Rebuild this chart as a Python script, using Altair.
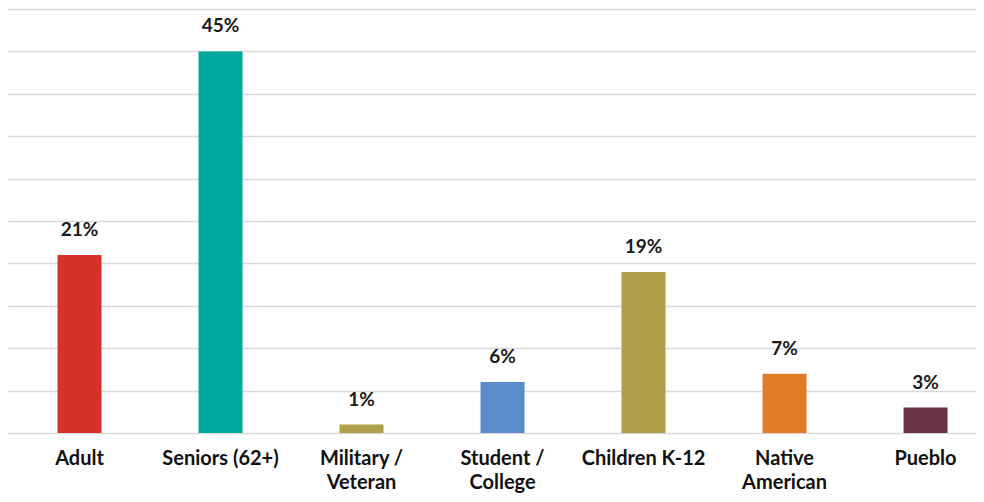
import altair as alt
import pandas as pd

categories = ["Adult", "Seniors (62+)", "Military /\nVeteran", "Student /\nCollege",
              "Children K-12", "Native\nAmerican", "Pueblo"]
values = [21, 45, 1, 6, 19, 7, 3]
colors = ["#D4312A", "#00A99D", "#AF9F4A", "#5B8BCB", "#AF9F4A", "#E27A26", "#6B3244"]
grid_values = [0, 5, 10, 15, 20, 25, 30, 35, 40, 45, 50]

df = pd.DataFrame({"cat": categories, "val": values, "color": colors})
df["label"] = df["val"].astype(str) + "%"

x = alt.X("cat:N", sort=categories, title=None,
          scale=alt.Scale(paddingInner=0.688, paddingOuter=0.2766, align=0.635),
          axis=alt.Axis(labelAngle=0, labelExpr="split(datum.label, '\\n')",
                        labelFont="Lato", labelFontWeight="bold", labelFontSize=20,
                        labelColor="#111111", labelLineHeight=24, labelPadding=15,
                        ticks=False, domain=False, grid=False, labelLimit=250))
y = alt.Y("val:Q", title=None,
          scale=alt.Scale(domain=[0, 50], nice=False),
          axis=alt.Axis(values=grid_values, labels=False, ticks=False, domain=False,
                        grid=True, gridColor="#D9D9D9", gridWidth=1.6))

bars = alt.Chart(df).mark_bar().encode(x=x, y=y, color=alt.Color("color:N", scale=None))
text = alt.Chart(df).mark_text(font="Lato", fontWeight="bold", fontSize=19,
                               color="#1a1a1a", baseline="alphabetic", dy=-19).encode(
    x=alt.X("cat:N", sort=categories), y="val:Q", text="label:N")

chart = (bars + text).properties(
    width=968, height=424,
    autosize=alt.AutoSizeParams(type="none"),
    padding={"left": 0, "top": 1, "right": 0, "bottom": 61},
).configure_view(stroke=None)

chart.save("out.html", embed_options={"renderer": "svg", "actions": False})
